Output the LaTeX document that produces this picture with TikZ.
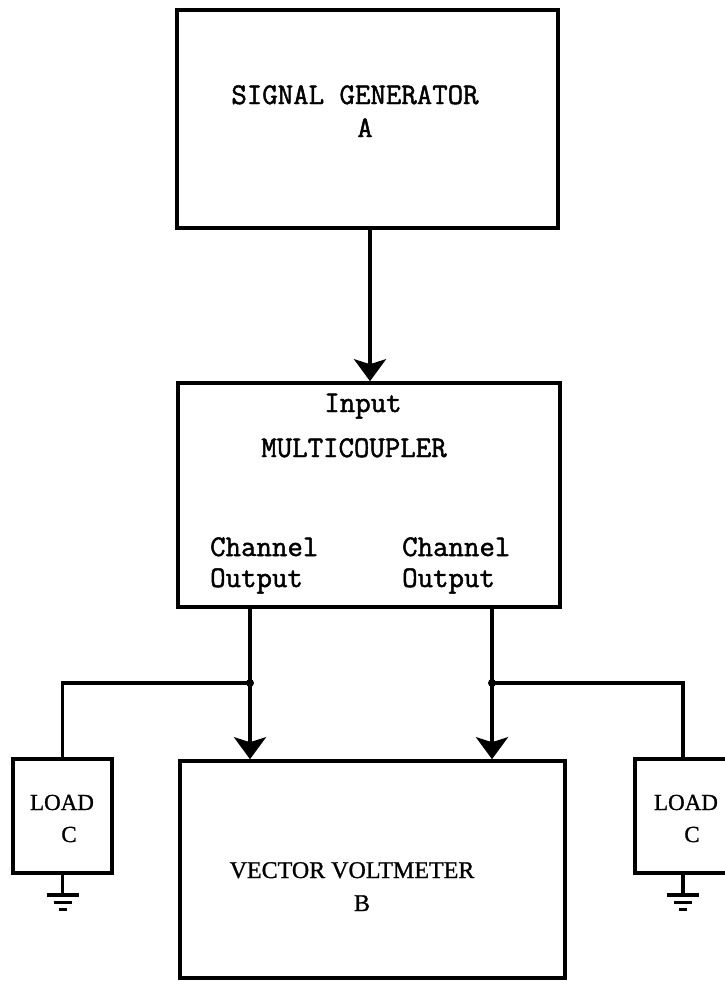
\documentclass[tikz,border=0pt]{standalone}
\usepackage{fontspec}
\newfontfamily\serifB{Liberation Serif}[FakeBold=1]
\newfontfamily\monoB{Latin Modern Mono}[FakeBold=1.6]
\usetikzlibrary{arrows.meta,calc}
\begin{document}
\begin{tikzpicture}[x=1pt,y=-1pt,
  box/.style={draw, line width=3.6pt, inner sep=0pt},
  tw/.style={font=\fontsize{30}{34}\selectfont\monoB, inner sep=0pt, anchor=base},
  sfv/.style={font=\fontsize{24}{28}\selectfont\serifB, inner sep=0pt, anchor=base},
  sfl/.style={font=\fontsize{23}{27}\selectfont\serifB, inner sep=0pt, anchor=base},
  wire/.style={line width=3.6pt},
  arr/.style={line width=3.6pt, -{Stealth[length=22pt,width=32pt,inset=5pt]}},
  ground/.pic={
    \draw[line width=3.6pt] (0,0) -- (0,20);
    \draw[line width=3.6pt] (-16,20) -- (16,20);
    \draw[line width=3pt] (-9,28) -- (9,28);
    \draw[line width=3pt] (-4,35) -- (4,35);
  }]
\useasboundingbox (0,0) rectangle (725,986);
\clip (0,0) rectangle (725,986);

% boxes
\node[box, minimum width=381pt, minimum height=218pt] (sg) at (367.5,119) {};
\node[box, minimum width=382pt, minimum height=224pt] (mc) at (369,495) {};
\node[box, minimum width=385pt, minimum height=217pt] (vv) at (372.5,869.5) {};
\node[box, minimum width=99pt, minimum height=114pt] (lc1) at (62.5,816) {};
\node[box, minimum width=96pt, minimum height=114pt] (lc2) at (683,816) {};

% texts
\node[tw] (sgt) at (355,104) {SIGNAL GENERATOR};
\node[tw] (sga) at (365,137) {A};
\node[tw] (inp) at (363,412) {Input};
\node[tw] (mct) at (354,457) {MULTICOUPLER};
\node[tw, anchor=base west] (ch1) at (210,556) {Channel};
\node[tw, anchor=base west] (ou1) at (210,587) {Output};
\node[tw, anchor=base west] (ch2) at (402,556) {Channel};
\node[tw, anchor=base west] (ou2) at (402,587) {Output};
\node[sfv] (vvt) at (352,878) {VECTOR VOLTMETER};
\node[sfv] (vvb) at (362,911) {B};
\node[sfl] (l1t) at (62,810) {LOAD};
\node[sfl] (l1c) at (69,842) {C};
\node[sfl] (l2t) at (686,810) {LOAD};
\node[sfl] (l2c) at (692,842) {C};

% connectors
\coordinate (j1) at (250,683);
\coordinate (j2) at (492,683);
\draw[arr] (sg.south -| 370,0) -- (mc.north -| 370,0);
\draw[arr] (mc.south -| j1) -- (vv.north -| j1);
\draw[arr] (mc.south -| j2) -- (vv.north -| j2);
\draw[wire] (j1) -| (lc1.north);
\draw[wire] (j2) -| (lc2.north);
\fill (j1) circle (4);
\fill (j2) circle (4);

% grounds
\pic at (lc1.south) {ground};
\pic at (lc2.south) {ground};
\end{tikzpicture}
\end{document}
